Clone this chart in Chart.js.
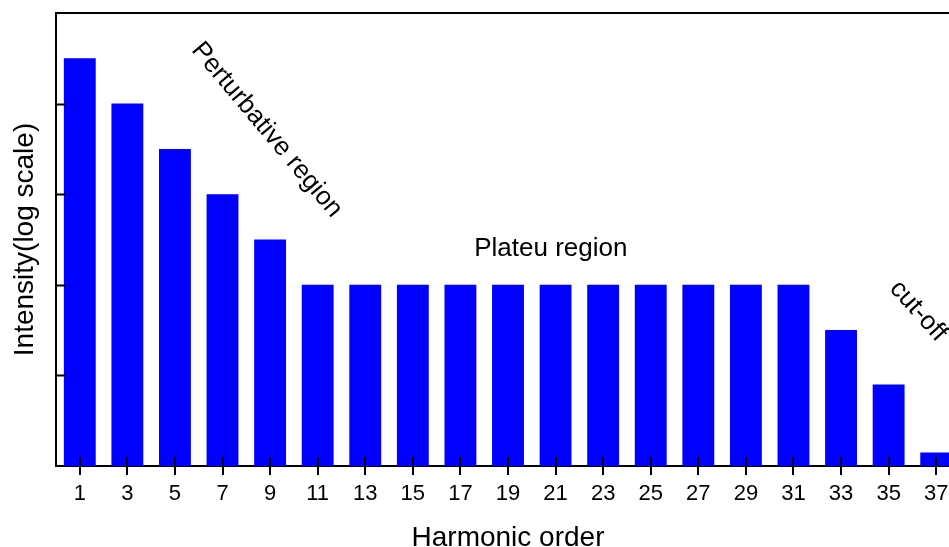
<!DOCTYPE html>
<html>
<head>
<meta charset="utf-8">
<script src="https://cdn.jsdelivr.net/npm/chart.js@4"></script>
<style>
  html, body { margin: 0; padding: 0; overflow: hidden; background: #fff; }
  #wrap { position: absolute; left: 0; top: 0; width: 1000px; height: 560px; }
</style>
</head>
<body>
<div id="wrap"><canvas id="c" width="1000" height="560"></canvas></div>
<script>
// Harmonic orders (odd harmonics) and their relative intensity on a log axis
const harmonics = ['1','3','5','7','9','11','13','15','17','19','21','23','25','27','29','31','33','35','37'];
const intensity = [4.5, 4.0, 3.5, 3.0, 2.5, 2, 2, 2, 2, 2, 2, 2, 2, 2, 2, 2, 1.5, 0.9, 0.15];
const yTickValues = [1, 2, 3, 4];

// Region labels: text, position in (category index, value) and rotation in degrees
const regionLabels = [
  { text: 'Perturbative region', x: 3.93, y: 3.71, angle: 50 },
  { text: 'Plateu region',       x: 9.9,  y: 2.395, angle: 0 },
  { text: 'cut-off',             x: 17.62, y: 1.71, angle: 48 }
];

const FONT = "'Liberation Sans', Arial, sans-serif";

const framePlugin = {
  id: 'frame',
  afterDraw(chart) {
    const { ctx, chartArea, scales } = chart;
    const xs = scales.x, ys = scales.y;
    ctx.save();
    ctx.strokeStyle = '#000';
    ctx.lineWidth = 2;
    // top border of the plot frame
    ctx.beginPath();
    ctx.moveTo(chartArea.left - 1, chartArea.top);
    ctx.lineTo(chartArea.right, chartArea.top);
    ctx.stroke();
    // x ticks crossing the axis
    ctx.beginPath();
    xs.ticks.forEach((t, i) => {
      const px = Math.round(xs.getPixelForTick(i));
      ctx.moveTo(px, chartArea.bottom - 9);
      ctx.lineTo(px, chartArea.bottom + 9);
    });
    // y ticks pointing inward
    yTickValues.forEach(v => {
      const py = Math.round(ys.getPixelForValue(v)) + 0.5;
      ctx.moveTo(chartArea.left, py);
      ctx.lineTo(chartArea.left + 9, py);
    });
    ctx.stroke();

    // region annotations
    ctx.fillStyle = '#000';
    ctx.font = '26px ' + FONT;
    ctx.textAlign = 'center';
    ctx.textBaseline = 'middle';
    regionLabels.forEach(l => {
      ctx.save();
      ctx.translate(xs.getPixelForValue(l.x), ys.getPixelForValue(l.y));
      ctx.rotate(l.angle * Math.PI / 180);
      ctx.fillText(l.text, 0, 0);
      ctx.restore();
    });
    ctx.restore();
  }
};

new Chart(document.getElementById('c'), {
  type: 'bar',
  data: {
    labels: harmonics,
    datasets: [{
      data: intensity,
      backgroundColor: '#0000ff',
      borderWidth: 0,
      barPercentage: 0.67,
      categoryPercentage: 1.0
    }]
  },
  options: {
    responsive: false,
    animation: false,
    devicePixelRatio: 1,
    layout: { padding: { top: 13, right: 40, left: 0, bottom: 0 } },
    plugins: { legend: { display: false }, tooltip: { enabled: false } },
    scales: {
      x: {
        grid: { display: false, drawTicks: false },
        border: { display: true, color: '#000', width: 2 },
        ticks: { color: '#000', font: { family: FONT, size: 22 }, padding: 15, maxRotation: 0, autoSkip: false },
        title: { display: true, text: 'Harmonic order', color: '#000', font: { family: FONT, size: 28 }, padding: { top: 0, bottom: 5 } },
        afterFit(scale) { scale.height = 94; }
      },
      y: {
        min: 0,
        max: 5,
        grid: { display: false, drawTicks: false },
        border: { display: true, color: '#000', width: 2 },
        ticks: { display: false, stepSize: 1 },
        title: { display: true, text: 'Intensity(log scale)', color: '#000', font: { family: FONT, size: 28 }, padding: { top: 8, bottom: 0 } },
        afterFit(scale) { scale.width = 56; }
      }
    }
  },
  plugins: [framePlugin]
});
</script>
</body>
</html>
